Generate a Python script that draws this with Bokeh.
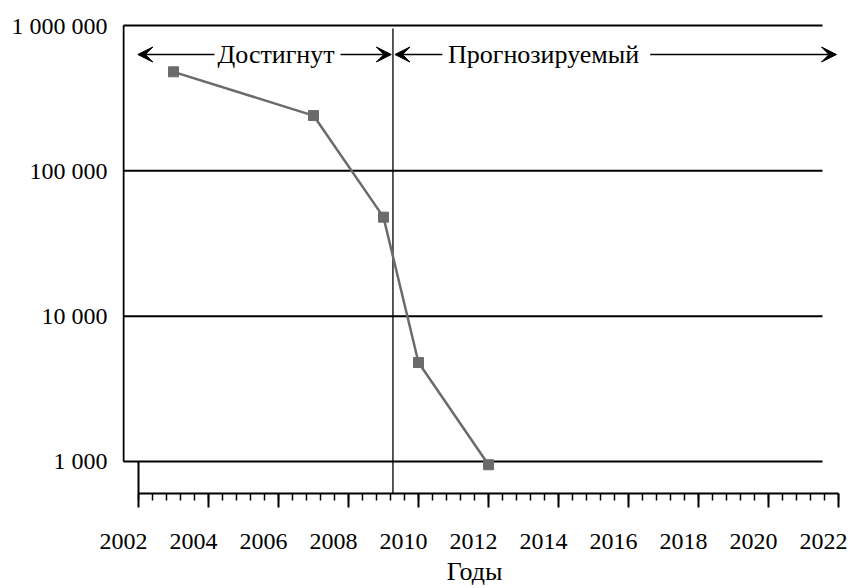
from bokeh.plotting import figure
from bokeh.models import Range1d, LinearAxis, FixedTicker, SingleIntervalTicker, Arrow, VeeHead
from bokeh.core.properties import value
from bokeh.embed import file_html
from bokeh.resources import INLINE

# ---- data ----
years = [2003, 2007, 2009, 2010, 2012]
counts = [480000, 240000, 48000, 4800, 950]
y_ticks = [1000, 10000, 100000, 1000000]
y_tick_labels = ["1 000", "10 000", "100 000", "1 000 000"]
x_major_years = list(range(2002, 2023, 2))
period_names = ["Достигнут", "Прогнозируемый"]
period_bounds = [2002, 2009.27, 2022]
x_title = "Годы"

# ---- layout helpers ----
FONT = "Liberation Serif"
FS = "24px"
FS_BIG = "26px"
PXY = 35.0          # px per year
PXD = 145.33        # px per decade

def yr(px):          # px offset -> years
    return px / PXY

def ylog(px_below_top):   # px below the 1 000 000 line -> value
    return 10 ** (6 - px_below_top / PXD)

x_start = period_bounds[0] - yr(16)
x_end = x_start + yr(718)
y_start = ylog(468)
y_end = ylog(-5)
LAB_SHIFT = yr(15)
grid_left = period_bounds[0] - yr(15)
grid_right = period_bounds[-1] - yr(16)
minor_positions = [period_bounds[0] + 0.4 * i for i in range(51)]

p = figure(width=848, height=588, output_backend="svg", toolbar_location=None,
           x_range=Range1d(x_start, x_end), y_range=Range1d(y_start, y_end),
           y_axis_type="log", min_border_left=122, min_border_right=8,
           min_border_top=20, min_border_bottom=95)
p.outline_line_color = None
p.xgrid.visible = False
p.ygrid.visible = False

# tick axis: line + minor ticks (major ticks drawn below as segments)
xa = p.xaxis[0]
xa.ticker = FixedTicker(ticks=[], minor_ticks=minor_positions)
xa.bounds = (period_bounds[0], period_bounds[-1])
xa.axis_line_width = 2
xa.axis_line_color = "black"
xa.major_tick_out = 14
xa.major_tick_in = 0
xa.minor_tick_out = 7
xa.minor_tick_in = 0
xa.minor_tick_line_width = 1.5
xa.minor_tick_line_color = "black"
xa.major_label_standoff = 0

# label axis (labels sit slightly left of the ticks, as in the source)
p.extra_x_ranges = {"lab": Range1d(x_start + LAB_SHIFT, x_end + LAB_SHIFT)}
la = LinearAxis(x_range_name="lab", ticker=SingleIntervalTicker(interval=2, num_minor_ticks=0))
la.axis_line_color = None
la.major_tick_line_color = None
la.minor_tick_line_color = None
la.major_tick_out = 0
la.minor_tick_out = 0
la.major_label_text_font = FONT
la.major_label_text_font_size = FS
la.major_label_text_color = "black"
la.major_label_standoff = 33
p.add_layout(la, "below")

ya = p.yaxis[0]
ya.ticker = FixedTicker(ticks=y_ticks, minor_ticks=[])
ya.major_label_overrides = dict(zip(y_ticks, y_tick_labels))
ya.axis_line_color = None
ya.major_tick_line_color = None
ya.minor_tick_line_color = None
ya.major_tick_out = 0
ya.major_tick_in = 0
ya.minor_tick_out = 0
ya.major_label_standoff = 15
ya.major_label_text_font = FONT
ya.major_label_text_font_size = FS
ya.major_label_text_color = "black"

# horizontal lines at decades
p.segment(x0=[grid_left] * len(y_ticks), x1=[grid_right] * len(y_ticks),
          y0=y_ticks, y1=y_ticks, line_color="black", line_width=2)
# left vertical line
p.segment(x0=[grid_left], x1=[grid_left], y0=[y_ticks[0]], y1=[y_ticks[-1]],
          line_color="black", line_width=2)
# major ticks (the first one reaches up to the 1 000 line)
tick_tops = [y_ticks[0]] + [y_start] * (len(x_major_years) - 1)
p.segment(x0=x_major_years, x1=x_major_years, y0=tick_tops,
          y1=[ylog(482)] * len(x_major_years),
          line_color="black", line_width=2, level="overlay")
# period divider
p.segment(x0=[period_bounds[1]], x1=[period_bounds[1]], y0=[ylog(3)], y1=[y_start],
          line_color="black", line_width=1.3)

# data
p.line(years, counts, line_color="#6b6b6b", line_width=2.5)
p.scatter(years, counts, marker="square", size=10, color="#6b6b6b")

# period annotations
y_arr = ylog(29)
text_x = [period_bounds[0] + yr(79), period_bounds[1] + yr(55)]
p.text(x=text_x, y=[y_arr, y_arr], text=period_names, text_font=value(FONT),
       text_font_size=FS_BIG, text_align="left", text_baseline="middle", text_color="black")

arrows = [
    (period_bounds[0] + yr(76), period_bounds[0] - yr(0.7)),
    (period_bounds[0] + yr(202), period_bounds[1] - yr(1.6)),
    (period_bounds[1] + yr(49.4), period_bounds[1] + yr(2)),
    (period_bounds[1] + yr(257.3), period_bounds[2] - yr(2)),
]
for xs, xe in arrows:
    p.add_layout(Arrow(end=VeeHead(size=15, fill_color="black", line_color="black", line_width=1),
                       x_start=xs, y_start=y_arr, x_end=xe, y_end=y_arr,
                       line_color="black", line_width=1.3))

# axis title (drawn at overlay level so it is not clipped to the frame)
p.text(x=[period_bounds[0] + yr(336)], y=[ylog(546)], text=[x_title],
       text_font=value(FONT), text_font_size=FS_BIG, text_align="center",
       text_baseline="alphabetic", text_color="black", level="overlay")

open("out.html", "w").write(file_html(p, INLINE))
